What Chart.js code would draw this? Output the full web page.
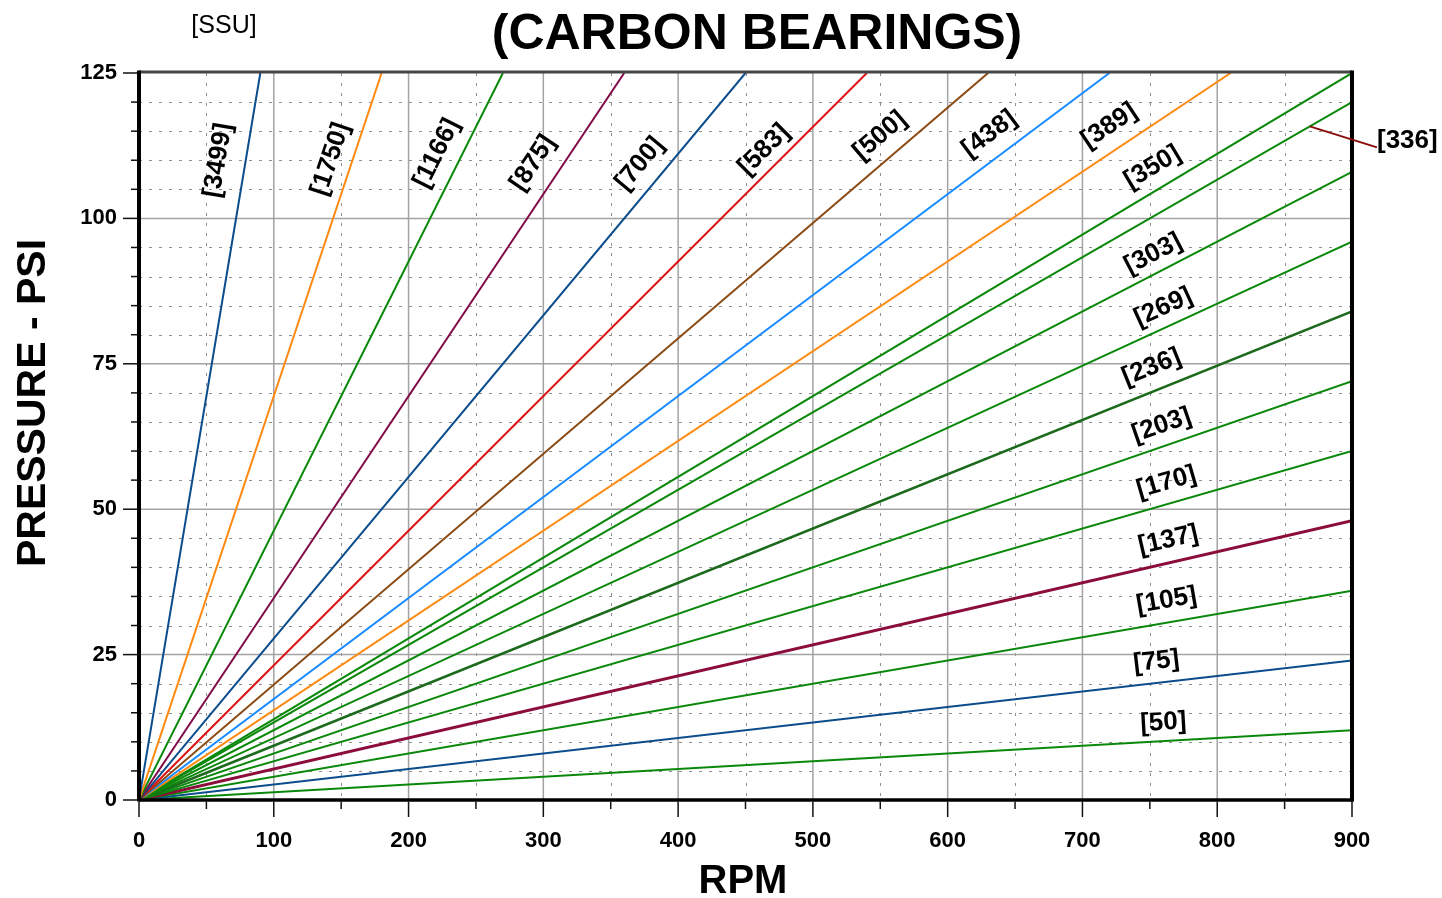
<!DOCTYPE html>
<html><head><meta charset="utf-8">
<script src="https://cdn.jsdelivr.net/npm/chart.js@4.4.1/dist/chart.umd.min.js"></script>
<style>html,body{margin:0;padding:0;background:#fff;overflow:hidden}canvas{display:block}</style>
</head><body>
<canvas id="c" width="1442" height="898"></canvas>
<script>
// ---- data ----
const ssuLabels = ['[3499]','[1750]','[1166]','[875]','[700]','[583]','[500]','[438]','[389]','[350]','[336]','[303]','[269]','[236]','[203]','[170]','[137]','[105]','[75]','[50]'];
const endRpm = [90,180,270,360,450,540,630,720,810,900,900,900,900,900,900,900,900,900,900,900];
const endPsi = [125,125,125,125,125,125,125,125,125,125,120,108,96,84,72,60,48,36,24,12];
const xTickStep = 100, yTickStep = 25;
const chartTitle = '(CARBON BEARINGS)';
const unitLabel = '[SSU]';
const xTitle = 'RPM';
const yTitle = 'PRESSURE - PSI';

// ---- styles / annotation placement ----
const NAVY='#0b4c8c', ORANGE='#ff8a12', GREEN='#0a880a', PLUM='#800a4a', RED='#dd1111', BROWN='#8b4a12', SKY='#1a8cff', MAROON='#8c0c3c', DKGREEN='#1c6a1c';
const lineColors = [NAVY,ORANGE,GREEN,PLUM,NAVY,RED,BROWN,SKY,ORANGE,GREEN,GREEN,GREEN,GREEN,DKGREEN,GREEN,GREEN,MAROON,GREEN,NAVY,GREEN];
const lineWidths = [2,2,2,2,2,2,2,2,2,2,2,2,2,2.6,2,2,3,2,2,2];
// label anchor (rpm, psi) for each series; null = special
const labelAt = [[58.8,110.0],[142.2,110.2],[220.9,111.2],[292.3,109.5],[371.7,109.4],[463.7,111.8],[549.8,114.2],[630.9,114.5],[719.9,115.9],[752.1,108.8],null,[752.5,93.9],[760,84.7],[751.3,74.4],[758.7,64.4],[762.4,54.6],[763.7,44.7],[762.4,34.3],[754.8,23.8],[760,13.3]];
const FONT = "'Liberation Sans', Arial, sans-serif";

const datasets = ssuLabels.map((lab, i) => ({
  label: lab,
  data: [{x: 0, y: 0}, {x: endRpm[i], y: endPsi[i]}],
  showLine: true,
  borderColor: lineColors[i],
  backgroundColor: lineColors[i],
  borderWidth: lineWidths[i],
  pointRadius: 0,
  fill: false,
  tension: 0
}));

function seg(ctx, x1, y1, x2, y2) { ctx.beginPath(); ctx.moveTo(x1, y1); ctx.lineTo(x2, y2); ctx.stroke(); }

const decor = {
  id: 'decor',
  beforeDatasetsDraw(chart) {
    const {ctx, chartArea: a, scales: {x, y}} = chart;
    ctx.save();
    // minor dotted grid
    ctx.strokeStyle = '#8f8f8f'; ctx.lineWidth = 1; ctx.setLineDash([3, 7]);
    for (let v = 5; v < y.max; v += 5) {
      if (v % yTickStep === 0) continue;
      const py = Math.round(y.getPixelForValue(v)) + 0.5;
      seg(ctx, a.left, py, a.right, py);
    }
    for (let v = xTickStep / 2; v < x.max; v += xTickStep) {
      const px = Math.round(x.getPixelForValue(v)) + 0.5;
      seg(ctx, px, a.top, px, a.bottom);
    }
    // major solid grid
    ctx.setLineDash([]); ctx.strokeStyle = '#a3a3a3'; ctx.lineWidth = 1.5;
    for (let v = yTickStep; v < y.max; v += yTickStep) {
      const py = y.getPixelForValue(v);
      seg(ctx, a.left, py, a.right, py);
    }
    for (let v = xTickStep; v < x.max; v += xTickStep) {
      const px = x.getPixelForValue(v);
      seg(ctx, px, a.top, px, a.bottom);
    }
    ctx.restore();
  },
  afterDatasetsDraw(chart) {
    const {ctx, chartArea: a, scales: {x, y}} = chart;
    ctx.save();
    // frame
    ctx.strokeStyle = '#454545'; ctx.lineWidth = 3;
    seg(ctx, a.left, a.top - 1, a.right, a.top - 1);
    ctx.strokeStyle = '#000'; ctx.lineWidth = 3.5;
    seg(ctx, a.left, a.bottom, a.right + 1.5, a.bottom);
    ctx.lineWidth = 4;
    seg(ctx, a.left, a.top - 2.5, a.left, a.bottom + 1.5);
    seg(ctx, a.right, a.top - 2.5, a.right, a.bottom + 1.5);
    // tick marks
    ctx.lineWidth = 1.5; ctx.strokeStyle = '#111';
    for (let v = 0; v <= x.max; v += xTickStep / 2) {
      const px = x.getPixelForValue(v);
      const len = (v % xTickStep === 0) ? 17 : 9;
      seg(ctx, px, a.bottom + 1.5, px, a.bottom + len);
    }
    for (let v = 0; v <= y.max; v += 5) {
      const py = y.getPixelForValue(v);
      const len = (v % yTickStep === 0) ? 16 : 8;
      seg(ctx, a.left - 2, py, a.left - len, py);
    }
    // series labels
    ctx.fillStyle = '#000';
    ctx.font = 'bold 26px ' + FONT;
    ctx.textAlign = 'center'; ctx.textBaseline = 'middle';
    ssuLabels.forEach((lab, i) => {
      const p = labelAt[i];
      if (!p) return;
      const ang = Math.atan2(y.getPixelForValue(endPsi[i]) - y.getPixelForValue(0), x.getPixelForValue(endRpm[i]) - x.getPixelForValue(0));
      ctx.save();
      ctx.translate(x.getPixelForValue(p[0]), y.getPixelForValue(p[1]));
      ctx.rotate(ang);
      ctx.fillText(lab, 0, 0);
      ctx.restore();
    });
    // [336] with leader line
    const k = ssuLabels.indexOf('[336]');
    const lr = 868.7, lp = endPsi[k] * lr / endRpm[k];
    const sx = x.getPixelForValue(lr), sy = y.getPixelForValue(lp);
    ctx.strokeStyle = '#8b0a0a'; ctx.lineWidth = 2;
    seg(ctx, sx, sy, a.right + 25, sy + 21);
    ctx.textAlign = 'left';
    ctx.fillText(ssuLabels[k], a.right + 25, sy + 14);
    // titles
    ctx.textAlign = 'center'; ctx.textBaseline = 'alphabetic';
    ctx.font = 'bold 50px ' + FONT;
    ctx.fillText(chartTitle, 757, 49);
    ctx.font = '25px ' + FONT;
    ctx.fillText(unitLabel, 224, 33);
    ctx.font = 'bold 40px ' + FONT;
    ctx.fillText(xTitle, 743, 893);
    ctx.save();
    ctx.translate(45, 403); ctx.rotate(-Math.PI / 2);
    ctx.font = 'bold 41px ' + FONT;
    ctx.fillText(yTitle, 0, 0);
    ctx.restore();
    ctx.restore();
  }
};

new Chart(document.getElementById('c'), {
  type: 'scatter',
  data: {datasets},
  plugins: [decor],
  options: {
    responsive: false,
    animation: false,
    events: [],
    layout: {padding: {left: 0, right: 90, top: 73, bottom: 0}},
    plugins: {legend: {display: false}, tooltip: {enabled: false}, title: {display: false}},
    scales: {
      x: {
        type: 'linear', min: 0, max: 900,
        grid: {display: false}, border: {display: false},
        ticks: {stepSize: xTickStep, color: '#000', padding: 20, maxRotation: 0, autoSkip: false, font: {family: FONT, size: 22, weight: 'bold'}},
        afterFit(s) { s.height = 98; }
      },
      y: {
        type: 'linear', min: 0, max: 125,
        grid: {display: false}, border: {display: false},
        ticks: {stepSize: yTickStep, color: '#000', padding: 14, autoSkip: false, font: {family: FONT, size: 22, weight: 'bold'}},
        afterFit(s) { s.width = 139; }
      }
    }
  }
});
</script>
</body></html>
